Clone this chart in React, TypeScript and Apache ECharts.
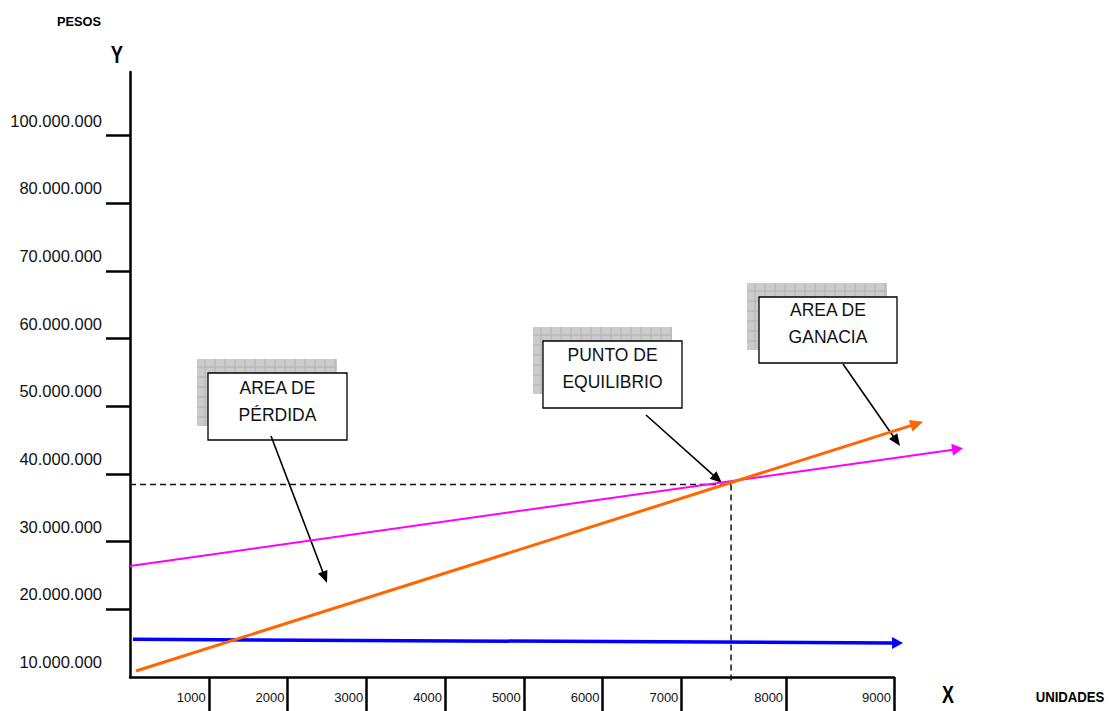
import React, { useEffect, useRef } from "react";
import * as echarts from "echarts";

// ---- data ----
const xTickValues = [1000, 2000, 3000, 4000, 5000, 6000, 7000, 8330, 9700];
const xTickLabels = ["1000", "2000", "3000", "4000", "5000", "6000", "7000", "8000", "9000"];
const yLabelValues = [10e6, 20e6, 30e6, 40e6, 50e6, 60e6, 70e6, 80e6, 90e6];
const yTickLabels = ["10.000.000", "20.000.000", "30.000.000", "40.000.000", "50.000.000", "60.000.000", "70.000.000", "80.000.000", "100.000.000"];
const yTickValues = [20e6, 30e6, 40e6, 50e6, 60e6, 70e6, 80e6, 90e6];

// each line: [start, end] as [unidades, pesos]
const costosTotales = [[0, 26.4e6], [10576, 43.8e6]]; // pink
const ventas = [[76, 10.89e6], [10069, 47.71e6]]; // orange
const costosFijos = [[38, 15.57e6], [9815, 15.02e6]]; // blue
const puntoEquilibrio = [7631, 38.43e6];

const FONT = '"Liberation Sans", Arial, sans-serif';

function arrowShapes(p1: number[], p2: number[], color: string, width: number, headLen: number, headW: number) {
  const dx = p2[0] - p1[0];
  const dy = p2[1] - p1[1];
  const len = Math.sqrt(dx * dx + dy * dy) || 1;
  const ux = dx / len;
  const uy = dy / len;
  const bx = p2[0] - ux * headLen;
  const by = p2[1] - uy * headLen;
  const nx = -uy;
  const ny = ux;
  return [
    {
      type: "line",
      shape: { x1: p1[0], y1: p1[1], x2: bx + ux * 1, y2: by + uy * 1 },
      style: { stroke: color, lineWidth: width },
    },
    {
      type: "polygon",
      shape: {
        points: [
          [p2[0], p2[1]],
          [bx + (nx * headW) / 2, by + (ny * headW) / 2],
          [bx - (nx * headW) / 2, by - (ny * headW) / 2],
        ],
      },
      style: { fill: color },
    },
  ];
}

function lineSeries(name: string, pts: number[][], color: string, width: number, headLen: number, headW: number) {
  return {
    type: "custom",
    name,
    clip: false,
    data: [[pts[0][0], pts[0][1], pts[1][0], pts[1][1]]],
    z: 5,
    renderItem: (_params: any, api: any) => {
      const p1 = api.coord([api.value(0), api.value(1)]);
      const p2 = api.coord([api.value(2), api.value(3)]);
      return { type: "group", children: arrowShapes(p1, p2, color, width, headLen, headW) };
    },
  };
}

function shadowBox(x: number, y: number, w: number, h: number) {
  const children: any[] = [
    { type: "rect", shape: { x, y, width: w, height: h }, style: { fill: "#cbcbcb" } },
  ];
  for (let gx = x + 8; gx < x + w; gx += 10) {
    children.push({ type: "line", shape: { x1: gx, y1: y, x2: gx, y2: y + h }, style: { stroke: "#b2b2b2", lineWidth: 1 } });
  }
  for (let gy = y + 8; gy < y + h; gy += 10) {
    children.push({ type: "line", shape: { x1: x, y1: gy, x2: x + w, y2: gy }, style: { stroke: "#b2b2b2", lineWidth: 1 } });
  }
  return { type: "group", children, z: 20 };
}

function labelBox(x: number, y: number, w: number, h: number, text: string, textY: number) {
  return {
    type: "group",
    z: 21,
    children: [
      { type: "rect", shape: { x, y, width: w, height: h }, style: { fill: "#fff", stroke: "#000", lineWidth: 1.3 } },
      {
        type: "text",
        x: x + w / 2,
        y: textY,
        style: {
          text,
          fill: "#111",
          font: `17.5px ${FONT}`,
          lineHeight: 27,
          align: "center",
          verticalAlign: "middle",
          textAlign: "center",
          textVerticalAlign: "middle",
        },
      },
    ],
  };
}

function blackArrow(x1: number, y1: number, x2: number, y2: number) {
  return { type: "group", z: 30, children: arrowShapes([x1, y1], [x2, y2], "#000", 1.6, 12, 10) };
}

function plainText(text: string, x: number, y: number, font: string, sx: number) {
  return {
    type: "text",
    x,
    y,
    scaleX: sx,
    z: 30,
    style: { text, fill: "#000", font, align: "center", verticalAlign: "middle", textAlign: "center", textVerticalAlign: "middle" },
  };
}

export default function App() {
  const ref = useRef<HTMLDivElement>(null);
  useEffect(() => {
    if (!ref.current) return;
    const chart = echarts.init(ref.current, null, { renderer: "svg" });
    const option: any = {
      animation: false,
      backgroundColor: "#fff",
      grid: { left: 130, right: 221, top: 72, bottom: 34, outerBoundsMode: "none" },
      xAxis: {
        type: "value",
        min: 0,
        max: 9700,
        axisLine: { show: true, onZero: false, lineStyle: { color: "#000", width: 2.5 } },
        axisTick: { show: true, customValues: xTickValues, length: 36, lineStyle: { color: "#000", width: 2.5 } },
        axisLabel: {
          customValues: xTickValues,
          formatter: (v: number) => {
            const i = xTickValues.indexOf(v);
            return i >= 0 ? xTickLabels[i] : "";
          },
          align: "right",
          verticalAlign: "middle",
          margin: 20,
          padding: [0, 3, 0, 0],
          fontSize: 13,
          color: "#111",
          fontFamily: FONT,
        },
        splitLine: { show: false },
      },
      yAxis: {
        type: "value",
        min: 10e6,
        max: 99.4e6,
        axisLine: { show: true, onZero: false, lineStyle: { color: "#000", width: 2.5 } },
        axisTick: { show: true, customValues: yTickValues, length: 24, lineStyle: { color: "#000", width: 2.5 } },
        axisLabel: {
          customValues: yLabelValues,
          formatter: (v: number) => {
            const i = yLabelValues.indexOf(v);
            return i >= 0 ? yTickLabels[i] : "";
          },
          margin: 28,
          verticalAlign: "bottom",
          lineHeight: 16,
          padding: [0, 0, 7, 0],
          fontSize: 16.5,
          color: "#111",
          fontFamily: FONT,
        },
        splitLine: { show: false },
      },
      series: [
        {
          type: "custom",
          name: "Punto de equilibrio",
          clip: false,
          z: 3,
          data: [puntoEquilibrio],
          renderItem: (_params: any, api: any) => {
            const p = api.coord([api.value(0), api.value(1)]);
            const left = api.coord([0, api.value(1)]);
            const bottom = api.coord([api.value(0), 10e6]);
            const st = { stroke: "#111", lineWidth: 1.5, lineDash: [6, 4] };
            return {
              type: "group",
              children: [
                { type: "line", shape: { x1: left[0], y1: p[1], x2: p[0], y2: p[1] }, style: st },
                { type: "line", shape: { x1: p[0], y1: p[1], x2: p[0], y2: bottom[1] + 6 }, style: st },
              ],
            };
          },
        },
        lineSeries("Costos totales", costosTotales, "#ff00ff", 2, 11, 12),
        lineSeries("Costos fijos", costosFijos, "#0000ff", 3.5, 11, 12),
        lineSeries("Ventas", ventas, "#ff6600", 3, 13, 12),
      ],
      graphic: [
        plainText("PESOS", 79, 21, `bold 13.5px ${FONT}`, 0.95),
        plainText("Y", 117, 55, `bold 23px ${FONT}`, 0.8),
        plainText("X", 948, 695, `bold 23px ${FONT}`, 0.78),
        plainText("UNIDADES", 1070, 697, `bold 14px ${FONT}`, 0.94),
        shadowBox(197, 359, 140, 67),
        labelBox(208, 373, 139, 67, "AREA DE\nPÉRDIDA", 401.5),
        shadowBox(533, 327, 139, 67),
        labelBox(543, 341, 139, 67, "PUNTO DE\nEQUILIBRIO", 368.5),
        shadowBox(747, 283, 140, 67),
        labelBox(759, 297, 138, 66, "AREA DE\nGANACIA", 323.5),
        blackArrow(271, 436, 327, 583),
        blackArrow(646, 415, 722, 483),
        blackArrow(843, 364, 900, 446),
      ],
    };
    chart.setOption(option);
    return () => chart.dispose();
  }, []);
  return <div ref={ref} style={{ position: "fixed", left: 0, top: 0, width: 1115, height: 711 }} />;
}
